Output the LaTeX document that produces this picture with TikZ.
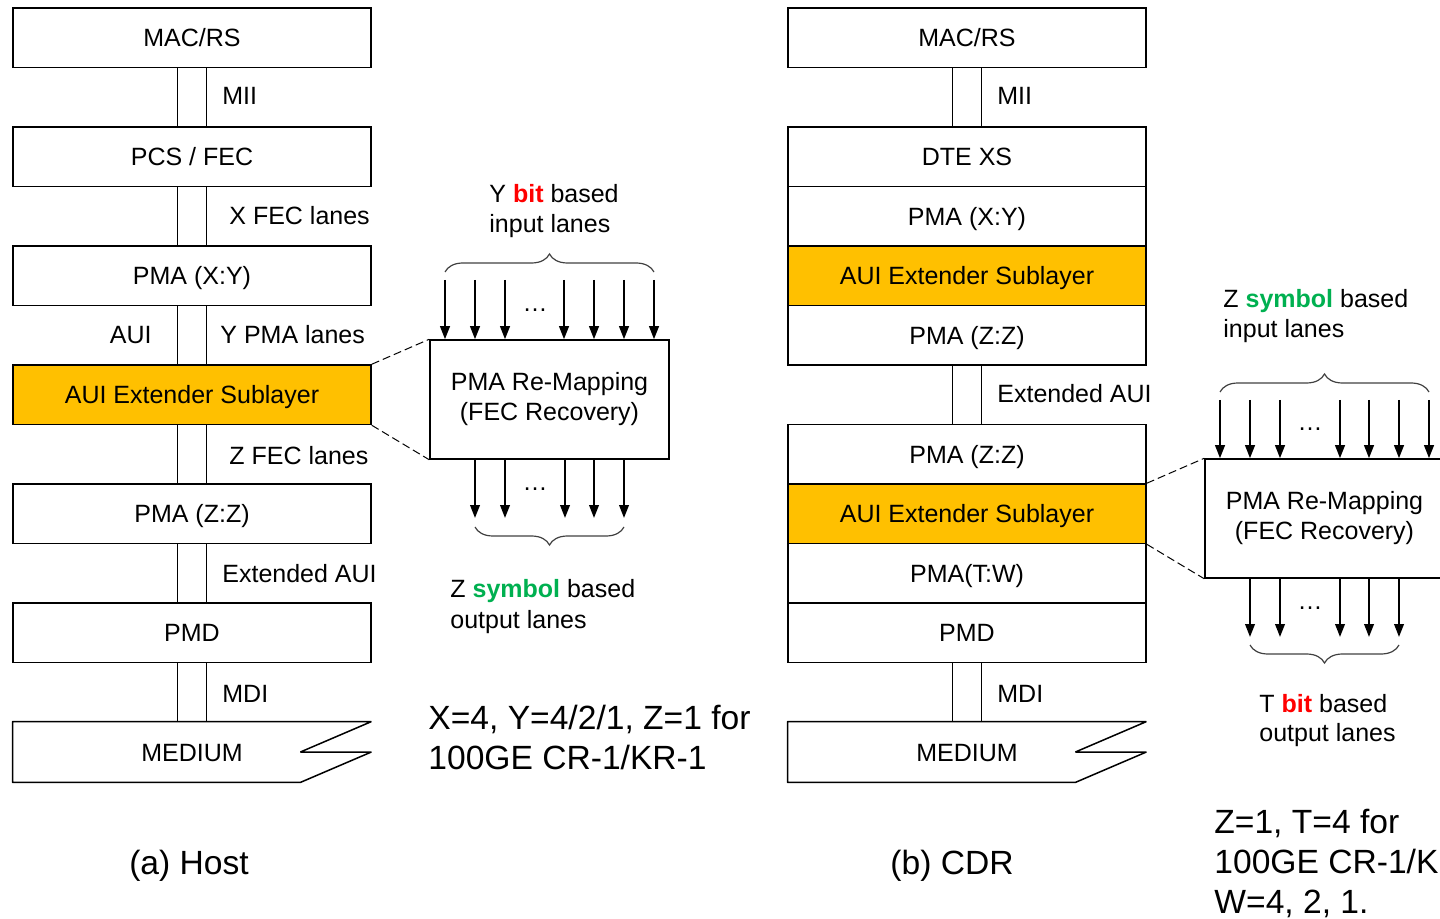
\documentclass[tikz,border=0pt]{standalone}
\usepackage{fontspec}
\setmainfont{Liberation Sans}
\usetikzlibrary{arrows.meta,decorations.pathreplacing,calc}
\definecolor{auiorange}{HTML}{FFC000}
\definecolor{redbit}{HTML}{FF0000}
\definecolor{greensym}{HTML}{00B050}
\newcommand\mylink[2]{\draw[boxline] ([xshift=-7.25pt]#1.south) -- ([xshift=-7.25pt]#2.north) ([xshift=7.25pt]#1.south) -- ([xshift=7.25pt]#2.north);}
\newcommand\mymedium[1]{\draw[boxline, line join=bevel] (#1.north west) -- (#1.north east) -- ([xshift=-35.5pt]#1.east) -- (#1.east) -- ([xshift=-35.5pt]#1.south east) -- (#1.south west) -- cycle;}
\begin{document}
\begin{tikzpicture}[x=0.5pt,y=-0.5pt,
  lbl/.style={font=\fontsize{12.5}{15}\selectfont, inner sep=0pt, text height=9pt, text depth=0pt},
  lw/.style={lbl, anchor=west},
  boxline/.style={line width=0.75pt},
  box/.style={lbl, draw, boxline, minimum width=179pt, minimum height=29.75pt},
  auibox/.style={box, fill=auiorange},
  medium/.style={lbl, minimum width=179pt, minimum height=30pt},
  remap/.style={draw, boxline, minimum width=119.5pt, minimum height=59.5pt, inner sep=0pt, align=center, font=\fontsize{12.5}{15}\selectfont},
  arr/.style={line width=1pt, -{Triangle[length=6.5pt,width=4.8pt]}},
  brace/.style={decorate, decoration={brace, amplitude=9pt}, line width=0.6pt, draw=black!75},
  dashline/.style={line width=0.5pt, dash pattern=on 4pt off 2pt},
  dots/.style={font=\fontsize{12.5}{15}\selectfont, inner sep=0pt, text height=1.4pt, text depth=0pt},
  big/.style={font=\fontsize{16.8}{20}\selectfont, inner sep=0pt, text height=12pt, text depth=0pt},
  bigw/.style={big, anchor=west}]
\useasboundingbox (0,0) rectangle (1440,919);

% ---------- (a) Host ----------
\node[box] (macL) at (192,37.75) {MAC/RS};
\node[box] (pcsL) at (192,156.75) {PCS / FEC};
\node[box] (pmaxyL) at (192,275.75) {PMA (X:Y)};
\node[auibox] (auiL) at (192,394.75) {AUI Extender Sublayer};
\node[box] (pmazzL) at (192,513.75) {PMA (Z:Z)};
\node[box] (pmdL) at (192,632.75) {PMD};
\node[medium] (medL) at (192,752) {MEDIUM};
\mymedium{medL}
\mylink{macL}{pcsL}
\mylink{pcsL}{pmaxyL}
\mylink{pmaxyL}{auiL}
\mylink{auiL}{pmazzL}
\mylink{pmazzL}{pmdL}
\mylink{pmdL}{medL}

\node[lw] (l1) at (222,96) {MII};
\node[lw] (l2) at (229,216) {X FEC lanes};
\node[lbl, anchor=east] (l3a) at (152,335) {AUI};
\node[lw] (l3) at (220,335) {Y PMA lanes};
\node[lw] (l4) at (229,456) {Z FEC lanes};
\node[lw] (l5) at (222,573) {Extended AUI};
\node[lw] (l6) at (222,693) {MDI};

\node[remap] (rA) at (549.5,399.5) {PMA Re-Mapping\\(FEC Recovery)};
\draw[dashline] (auiL.north east) -- (rA.north west);
\draw[dashline] (auiL.south east) -- (rA.south west);
\foreach \x in {445,475,505,564,594,624,654}
  \draw[arr] (\x,280) -- (\x,280 |- rA.north);
\foreach \x in {475,505,565,594,624}
  \draw[arr] (\x,459 |- rA.south) -- (\x,518);
\node[dots] (dA1) at (535,310) {…};
\node[dots] (dA2) at (535,489) {…};
\draw[brace] (445,272) -- (654,272);
\draw[brace] (624,527) -- (475,527);

\node[lw] (tA1) at (489,194) {Y \textbf{\color{redbit}bit} based};
\node[lw] (tA2) at (489,224) {input lanes};
\node[lw] (tA3) at (450,588) {Z \textbf{\color{greensym}symbol} based};
\node[lw] (tA4) at (450,619) {output lanes};

\node[bigw] (nA1) at (428,717) {X=4, Y=4/2/1, Z=1 for};
\node[bigw] (nA2) at (428,757) {100GE CR-1/KR-1};
\node[big] (capA) at (189,862) {(a) Host};

% ---------- (b) CDR ----------
\node[box] (macR) at (967,37.75) {MAC/RS};
\node[box] (dteR) at (967,156.75) {DTE XS};
\node[box] (pmaxyR) at (967,216.25) {PMA (X:Y)};
\node[auibox] (auiR1) at (967,275.75) {AUI Extender Sublayer};
\node[box] (pmazzR1) at (967,335.25) {PMA (Z:Z)};
\node[box] (pmazzR2) at (967,454.25) {PMA (Z:Z)};
\node[auibox] (auiR2) at (967,513.75) {AUI Extender Sublayer};
\node[box] (pmatwR) at (967,573.25) {PMA(T:W)};
\node[box] (pmdR) at (967,632.75) {PMD};
\node[medium] (medR) at (967,752) {MEDIUM};
\mymedium{medR}
\mylink{macR}{dteR}
\mylink{pmazzR1}{pmazzR2}
\mylink{pmdR}{medR}

\node[lw] (r1) at (997,96) {MII};
\node[lw] (r2) at (997,394) {Extended AUI};
\node[lw] (r3) at (997,693) {MDI};

\node[remap] (rB) at (1324.5,518.5) {PMA Re-Mapping\\(FEC Recovery)};
\draw[dashline] (auiR2.north east) -- (rB.north west);
\draw[dashline] (auiR2.south east) -- (rB.south west);
\foreach \x in {1220,1250,1280,1340,1369,1399,1429}
  \draw[arr] (\x,400) -- (\x,400 |- rB.north);
\foreach \x in {1250,1280,1340,1369,1399}
  \draw[arr] (\x,578 |- rB.south) -- (\x,637);
\node[dots] (dB1) at (1310,429) {…};
\node[dots] (dB2) at (1310,608) {…};
\draw[brace] (1220,392) -- (1429,392);
\draw[brace] (1399,645) -- (1250,645);

\node[lw] (tB1) at (1223,299) {Z \textbf{\color{greensym}symbol} based};
\node[lw] (tB2) at (1223,329) {input lanes};
\node[lw] (tB3) at (1259,703) {T \textbf{\color{redbit}bit} based};
\node[lw] (tB4) at (1259,732) {output lanes};

\node[bigw] (nB1) at (1214,821) {Z=1, T=4 for};
\node[bigw] (nB2) at (1214,861) {100GE CR-1/KR-1};
\node[bigw] (nB3) at (1214,901) {W=4, 2, 1.};
\node[big] (capB) at (952,862) {(b) CDR};
\end{tikzpicture}
\end{document}
